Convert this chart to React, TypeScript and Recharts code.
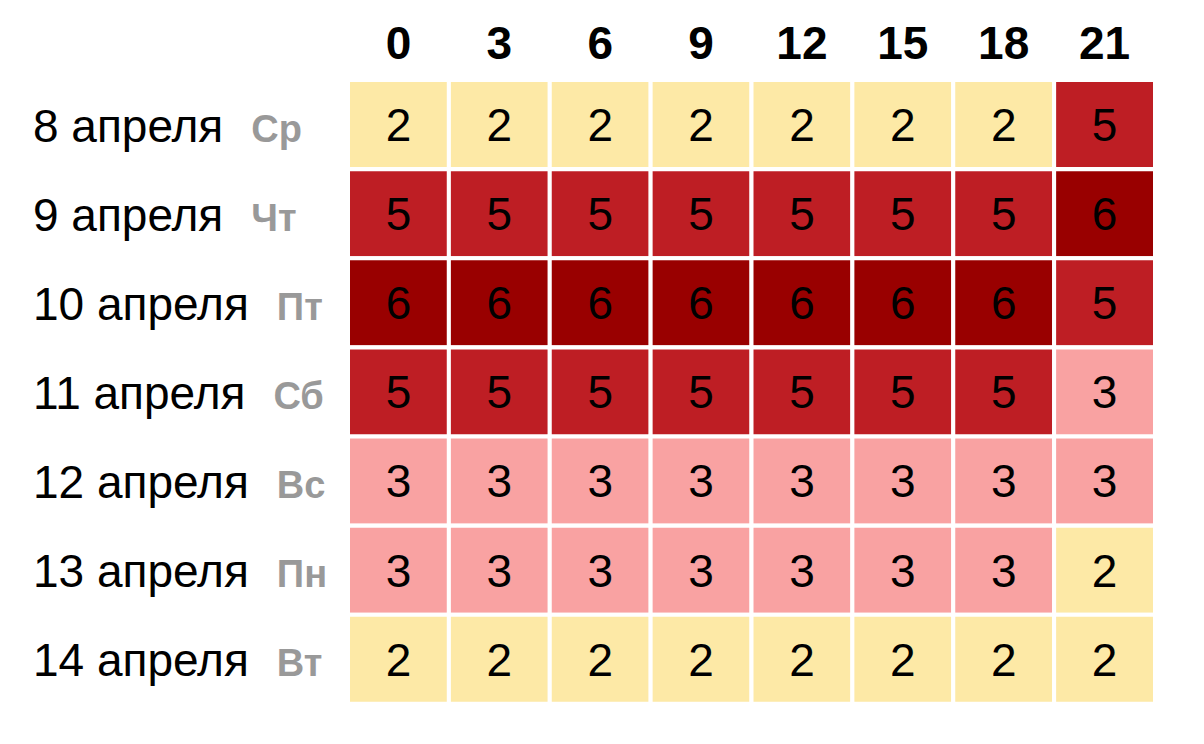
import React from "react"
import { BarChart, Bar, XAxis, YAxis, Cell, LabelList } from "recharts"

const dates = ["8 апреля", "9 апреля", "10 апреля", "11 апреля", "12 апреля", "13 апреля", "14 апреля"]
const weekdays = ["Ср", "Чт", "Пт", "Сб", "Вс", "Пн", "Вт"]
const hours = [0, 3, 6, 9, 12, 15, 18, 21]
const levels = [
  [2, 2, 2, 2, 2, 2, 2, 5],
  [5, 5, 5, 5, 5, 5, 5, 6],
  [6, 6, 6, 6, 6, 6, 6, 5],
  [5, 5, 5, 5, 5, 5, 5, 3],
  [3, 3, 3, 3, 3, 3, 3, 3],
  [3, 3, 3, 3, 3, 3, 3, 2],
  [2, 2, 2, 2, 2, 2, 2, 2],
]
const levelColors: Record<number, string> = {
  2: "#FDE9A6",
  3: "#F9A2A2",
  5: "#BE1E24",
  6: "#990000",
}

const font = "'Liberation Sans', Arial, sans-serif"

const data = dates.map((date, r) => {
  const row: Record<string, string | number> = { date }
  hours.forEach((_, c) => {
    row[`c${c}`] = 1
    row[`v${c}`] = levels[r][c]
  })
  return row
})

function HourTick(props: any) {
  const { x, payload } = props
  return (
    <text x={x} y={51} textAnchor="middle" fontFamily={font} fontSize={46} fontWeight="bold" fill="#000">
      {hours[Math.floor(payload.value)]}
    </text>
  )
}

function DateTick(props: any) {
  const { y, payload, index } = props
  return (
    <text x={25} y={y + 17} fontFamily={font} fill="#000">
      <tspan fontSize={46}>{payload.value}</tspan>
      <tspan dx={28} fontSize={38} fontWeight="bold" fill="#999">
        {weekdays[index]}
      </tspan>
    </text>
  )
}

export default function App() {
  return (
    <BarChart
      layout="vertical"
      width={1188}
      height={728}
      data={data}
      margin={{ top: 0, right: 41, bottom: 32, left: 0 }}
      barCategoryGap={0}
    >
      <XAxis
        type="number"
        orientation="top"
        domain={[0, 8]}
        ticks={hours.map((_, i) => i + 0.5)}
        axisLine={false}
        tickLine={false}
        height={72}
        tick={HourTick}
      />
      <YAxis type="category" dataKey="date" width={340} axisLine={false} tickLine={false} tick={DateTick} />
      {hours.map((h, c) => (
        <Bar key={h} dataKey={`c${c}`} stackId="a" stroke="#fff" strokeWidth={4} isAnimationActive={false}>
          {data.map((_, r) => (
            <Cell key={r} fill={levelColors[levels[r][c]]} />
          ))}
          <LabelList dataKey={`v${c}`} position="center" fill="#000" fontSize={46} fontFamily={font} />
        </Bar>
      ))}
    </BarChart>
  )
}
